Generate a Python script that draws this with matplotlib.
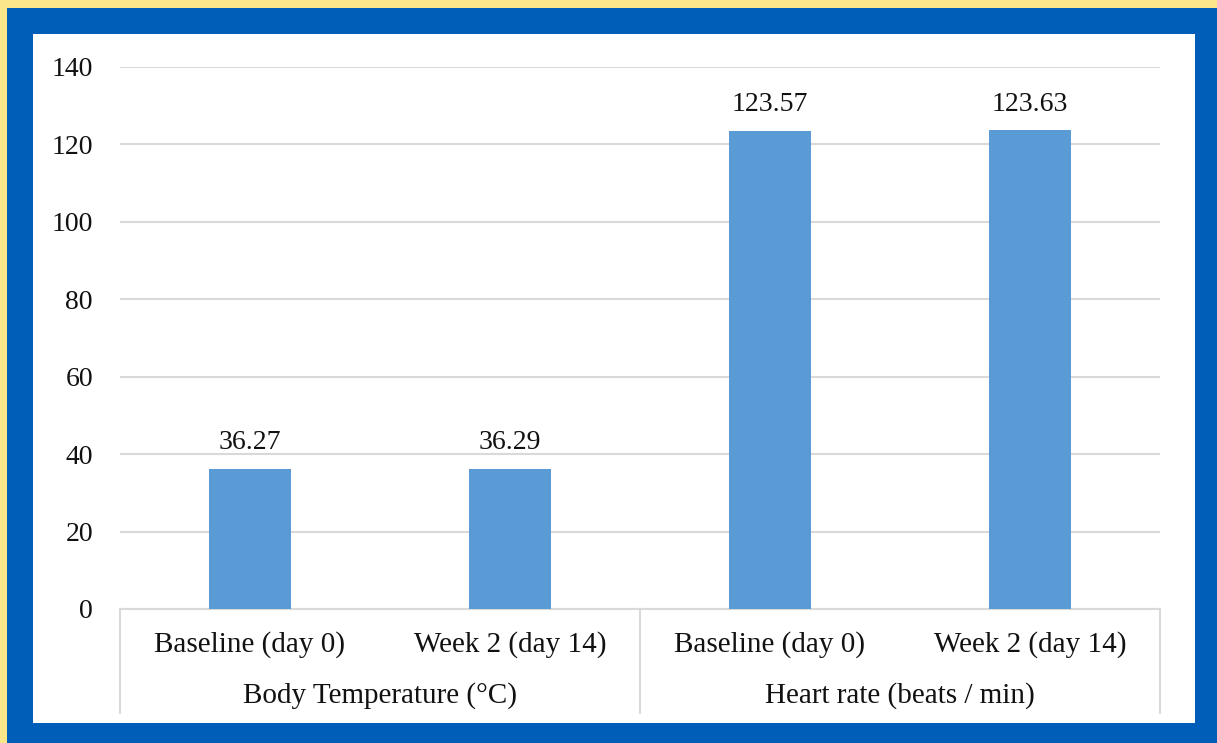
import matplotlib
matplotlib.use("Agg")
import matplotlib.pyplot as plt
from matplotlib.patches import Rectangle

categories = ["Baseline (day 0)", "Week 2 (day 14)", "Baseline (day 0)", "Week 2 (day 14)"]
groups = ["Body Temperature (°C)", "Heart rate (beats / min)"]
values = [36.27, 36.29, 123.57, 123.63]
labels = ["36.27", "36.29", "123.57", "123.63"]
yticks = [0, 20, 40, 60, 80, 100, 120, 140]

W, H = 1217, 743
plt.rcParams['font.family'] = ['Liberation Serif', 'DejaVu Serif']
fig = plt.figure(figsize=(W / 100, H / 100), dpi=100)
fig.patch.set_facecolor('#FCE68A')

def px_rect(x0, y0, x1, y1, color, z):
    fig.add_artist(Rectangle((x0 / W, 1 - y1 / H), (x1 - x0) / W, (y1 - y0) / H,
                             transform=fig.transFigure, facecolor=color,
                             edgecolor='none', zorder=z))

px_rect(7, 8, W, H, '#005EB8', -3)
px_rect(33, 34, 1195, 723, 'white', -2)

ax = fig.add_axes([120 / W, (H - 609) / H, (1160 - 120) / W, (609 - 67) / H])
ax.set_zorder(1)
ax.set_facecolor('none')
x = list(range(len(values)))
ax.bar(x, values, width=0.315, color='#5B9BD5', zorder=3)
ax.set_xlim(-0.5, len(values) - 0.5)
ax.set_ylim(0, 140)
ax.set_yticks(yticks)
ax.set_yticklabels([str(t) for t in yticks], fontsize=20, color='#111111')
ax.tick_params(axis='y', length=0, pad=19.5)
ax.set_xticks([])
ax.grid(axis='y', color='#D9D9D9', linewidth=1.5, zorder=0)
ax.set_axisbelow(True)
for s in ['top', 'right', 'left']:
    ax.spines[s].set_visible(False)
ax.spines['bottom'].set_color('#D9D9D9')
ax.spines['bottom'].set_linewidth(1.5)

for xi, v, lab in zip(x, values, labels):
    ax.annotate(lab, (xi, v), xytext=(0, 14), textcoords='offset points',
                ha='center', va='baseline', fontsize=20, color='#111111')

for xi, c in zip(x, categories):
    ax.text(xi, -0.066, c, transform=ax.get_xaxis_transform(), ha='center', va='center',
            fontsize=21, color='#111111')
for gi, g in enumerate(groups):
    ax.text(gi * 2 + 0.5, -0.16, g, transform=ax.get_xaxis_transform(), ha='center',
            va='center', fontsize=21, color='#111111')
for sx in [-0.5, 1.5, 3.5]:
    ax.plot([sx, sx], [0, -0.192], transform=ax.get_xaxis_transform(), color='#D9D9D9',
            linewidth=1.5, clip_on=False)

fig.savefig('out.png', dpi=100)
